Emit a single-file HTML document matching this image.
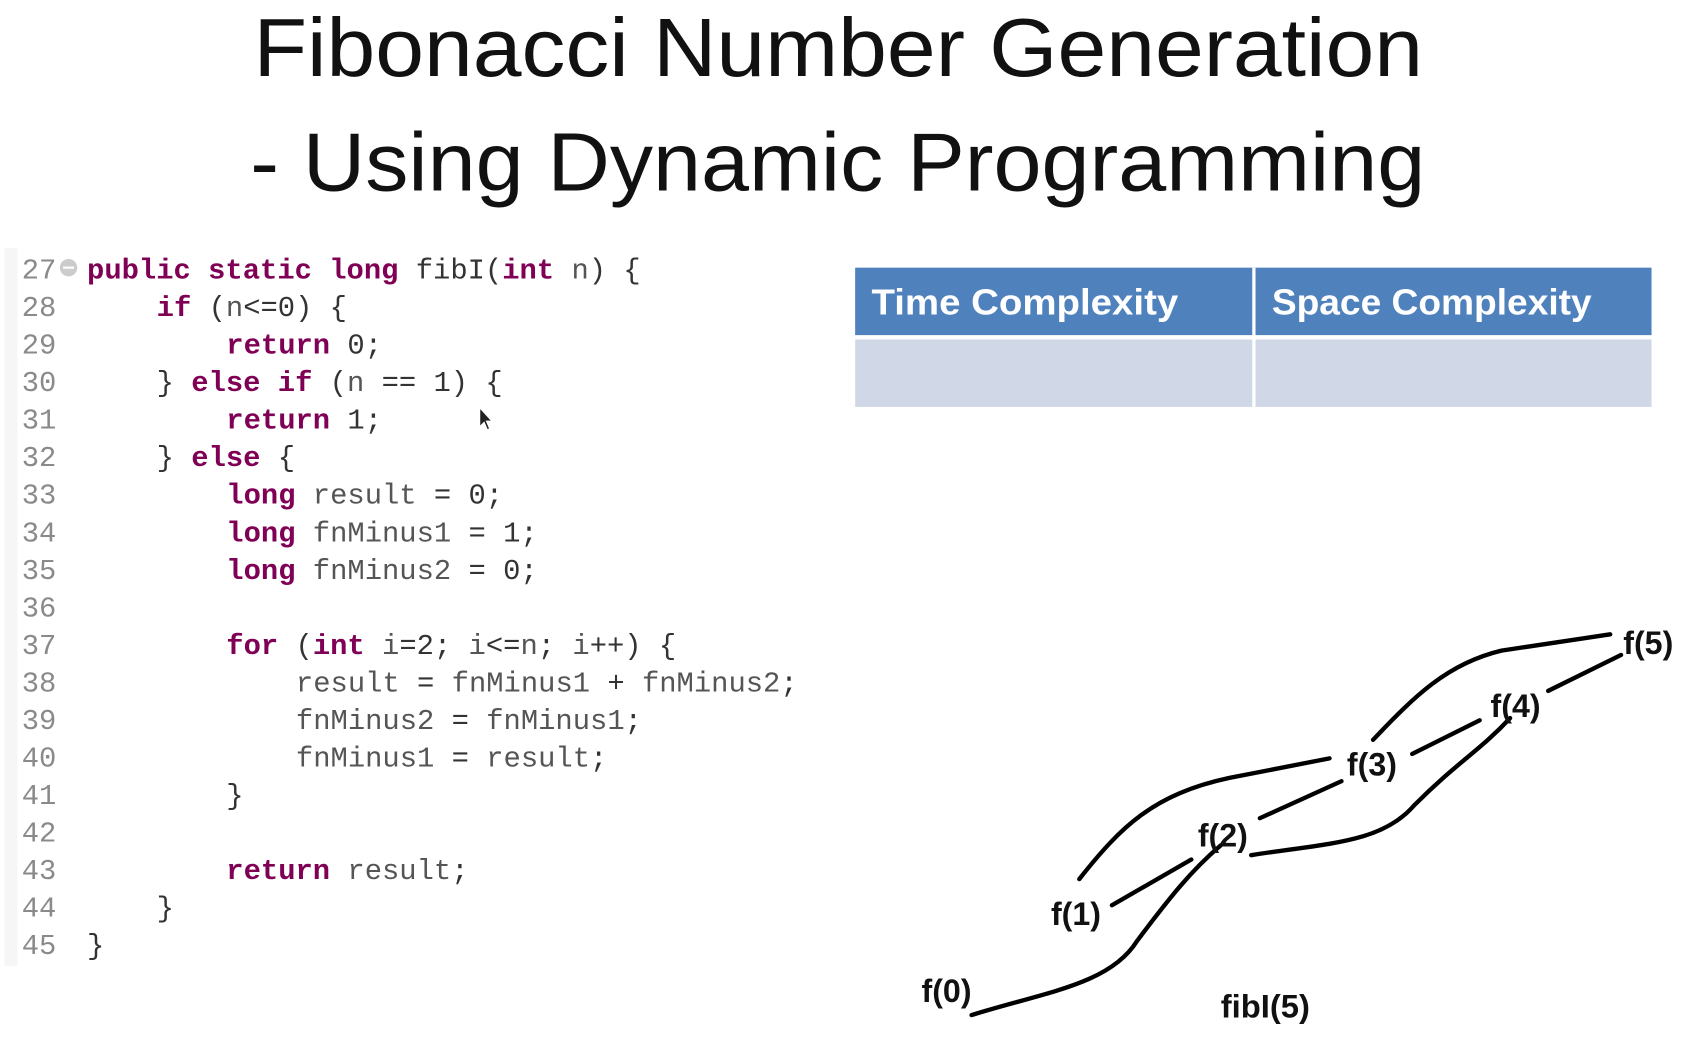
<!DOCTYPE html>
<html><head><meta charset="utf-8"><style>
html,body{margin:0;padding:0;background:#fff;}
svg{display:block}
svg text{white-space:pre}
.ln{fill:#8a8a8a}
.k{fill:#7f0055;font-weight:bold}
.t{fill:#333}
.v{fill:#555}
</style></head><body>
<svg width="1698" height="1042" viewBox="0 0 1560.7 957.7" xmlns="http://www.w3.org/2000/svg">
<rect x="0" y="0" width="1560.7" height="957.7" fill="#fff"/>
<text x="233" y="70" font-family="Liberation Sans, sans-serif" font-size="76" textLength="1075" lengthAdjust="spacingAndGlyphs" fill="#111">Fibonacci Number Generation</text>
<text x="230" y="175" font-family="Liberation Sans, sans-serif" font-size="76" textLength="1080" lengthAdjust="spacingAndGlyphs" fill="#111">- Using Dynamic Programming</text>

<rect x="4" y="228" width="12" height="660" fill="#f6f6f6"/>
<g font-family="Liberation Mono, monospace" font-size="26.5">
<text x="20" y="256" class="ln">27</text>
<text x="20" y="290.5" class="ln">28</text>
<text x="20" y="325" class="ln">29</text>
<text x="20" y="359.5" class="ln">30</text>
<text x="20" y="394" class="ln">31</text>
<text x="20" y="428.5" class="ln">32</text>
<text x="20" y="463" class="ln">33</text>
<text x="20" y="497.5" class="ln">34</text>
<text x="20" y="532" class="ln">35</text>
<text x="20" y="566.5" class="ln">36</text>
<text x="20" y="601" class="ln">37</text>
<text x="20" y="635.5" class="ln">38</text>
<text x="20" y="670" class="ln">39</text>
<text x="20" y="704.5" class="ln">40</text>
<text x="20" y="739" class="ln">41</text>
<text x="20" y="773.5" class="ln">42</text>
<text x="20" y="808" class="ln">43</text>
<text x="20" y="842.5" class="ln">44</text>
<text x="20" y="877" class="ln">45</text>
<circle cx="63" cy="246" r="8" fill="#ccc"/><rect x="58" y="245" width="10" height="2" fill="#fff"/>
<text x="80" y="256"><tspan class="k">public static long</tspan><tspan class="t"> fibI(</tspan><tspan class="k">int</tspan><tspan class="v"> n</tspan><tspan class="t">) {</tspan></text>
<text x="144" y="290.5"><tspan class="k">if</tspan><tspan class="t"> (</tspan><tspan class="v">n</tspan><tspan class="t">&lt;=0) {</tspan></text>
<text x="208" y="325"><tspan class="k">return</tspan><tspan class="t"> 0;</tspan></text>
<text x="144" y="359.5"><tspan class="t">} </tspan><tspan class="k">else if</tspan><tspan class="t"> (</tspan><tspan class="v">n</tspan><tspan class="t"> == 1) {</tspan></text>
<text x="208" y="394"><tspan class="k">return</tspan><tspan class="t"> 1;</tspan></text>
<text x="144" y="428.5"><tspan class="t">} </tspan><tspan class="k">else</tspan><tspan class="t"> {</tspan></text>
<text x="208" y="463"><tspan class="k">long</tspan><tspan class="v"> result</tspan><tspan class="t"> = 0;</tspan></text>
<text x="208" y="497.5"><tspan class="k">long</tspan><tspan class="v"> fnMinus1</tspan><tspan class="t"> = 1;</tspan></text>
<text x="208" y="532"><tspan class="k">long</tspan><tspan class="v"> fnMinus2</tspan><tspan class="t"> = 0;</tspan></text>
<text x="208" y="601"><tspan class="k">for</tspan><tspan class="t"> (</tspan><tspan class="k">int</tspan><tspan class="v"> i</tspan><tspan class="t">=2; </tspan><tspan class="v">i</tspan><tspan class="t">&lt;=</tspan><tspan class="v">n</tspan><tspan class="t">; </tspan><tspan class="v">i</tspan><tspan class="t">++) {</tspan></text>
<text x="272" y="635.5"><tspan class="v">result</tspan><tspan class="t"> = </tspan><tspan class="v">fnMinus1</tspan><tspan class="t"> + </tspan><tspan class="v">fnMinus2</tspan><tspan class="t">;</tspan></text>
<text x="272" y="670"><tspan class="v">fnMinus2</tspan><tspan class="t"> = </tspan><tspan class="v">fnMinus1</tspan><tspan class="t">;</tspan></text>
<text x="272" y="704.5"><tspan class="v">fnMinus1</tspan><tspan class="t"> = </tspan><tspan class="v">result</tspan><tspan class="t">;</tspan></text>
<text x="208" y="739"><tspan class="t">}</tspan></text>
<text x="208" y="808"><tspan class="k">return</tspan><tspan class="v"> result</tspan><tspan class="t">;</tspan></text>
<text x="144" y="842.5"><tspan class="t">}</tspan></text>
<text x="80" y="877"><tspan class="t">}</tspan></text>
</g>
<path d="M441,375 L441,392 L445,388 L448,395 L450,394 L447,387 L452,387 Z" fill="#222" stroke="#fff" stroke-width="0.8"/>

<rect x="786" y="246" width="732" height="62" fill="#4f81bd"/>
<rect x="786" y="312" width="732" height="62" fill="#d0d8e8"/>
<rect x="1151" y="246" width="3" height="128" fill="#fff"/>
<g font-family="Liberation Sans, sans-serif" font-weight="bold" font-size="33" fill="#fff">
<text x="801" y="289" textLength="282" lengthAdjust="spacingAndGlyphs">Time Complexity</text>
<text x="1169" y="289" textLength="294" lengthAdjust="spacingAndGlyphs">Space Complexity</text>
</g>

<g fill="none" stroke="#000" stroke-width="4" stroke-linecap="round">
<path d="M893,933 C960,912 1020,905 1045,865 C1075,825 1095,800 1122,777"/>
<path d="M1022,832 L1095,790"/>
<path d="M992,808 C1030,760 1060,730 1130,715 L1222,697"/>
<path d="M1158,752 L1233,718"/>
<path d="M1150,786 C1220,775 1270,775 1300,740 C1340,700 1360,690 1388,660"/>
<path d="M1262,680 C1300,640 1330,610 1380,598 L1480,583"/>
<path d="M1298,693 L1360,662"/>
<path d="M1423,635 L1490,602"/>
</g>
<g font-family="Liberation Sans, sans-serif" font-size="30" font-weight="bold" fill="#111">
<text x="1492" y="601" textLength="46" lengthAdjust="spacingAndGlyphs">f(5)</text>
<text x="1370" y="659" textLength="46" lengthAdjust="spacingAndGlyphs">f(4)</text>
<text x="1238" y="713" textLength="46" lengthAdjust="spacingAndGlyphs">f(3)</text>
<text x="1101" y="778" textLength="46" lengthAdjust="spacingAndGlyphs">f(2)</text>
<text x="966" y="850" textLength="46" lengthAdjust="spacingAndGlyphs">f(1)</text>
<text x="847" y="921" textLength="46" lengthAdjust="spacingAndGlyphs">f(0)</text>
<text x="1122" y="935" textLength="82" lengthAdjust="spacingAndGlyphs">fibI(5)</text>
</g>
</svg>
</body></html>
